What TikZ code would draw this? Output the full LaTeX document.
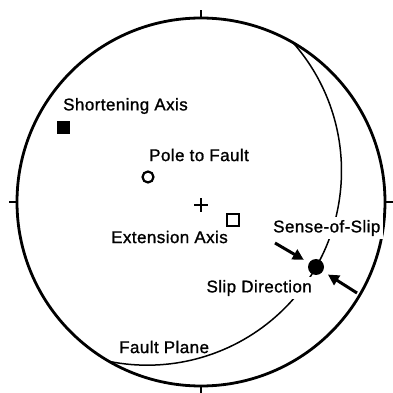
\documentclass[tikz,border=0pt]{standalone}
\usepackage{fontspec}
\setmainfont{Liberation Sans}[LetterSpace=2.5, FakeBold=1.2]
\usetikzlibrary{arrows.meta}
\tikzset{
  net/.style={draw, circle, line width=2.8pt, inner sep=0pt, minimum size=368pt},
  tick/.style={line width=1.6pt},
  plane/.style={line width=1.5pt},
  lbl/.style={font=\fontsize{17}{19}\selectfont, inner sep=2pt},
  cutlbl/.style={lbl, fill=white, inner sep=3pt},
  pt/.style={inner sep=0pt, line width=2.2pt},
  arr/.style={-{Triangle[length=11pt,width=11pt]}, line width=3pt, shorten >=5pt},
}

\begin{document}
\begin{tikzpicture}[x=1pt, y=1pt]
  \useasboundingbox (-201,-191) rectangle (192,202);
  % primitive circle and its ticks
  \node[net] (prim) at (0,0) {};
  \draw[tick] (prim.north) -- ++(0,7);
  \draw[tick] (prim.south) -- ++(0,-7);
  \draw[tick] (prim.west) -- ++(-7,0);
  \draw[tick] (prim.east) -- ++(7,0);
  % fault plane great circle
  \draw[plane] (-53.7,31) ++(41.4:194.2) arc[start angle=41.4, end angle=-101.4, radius=194.2];
  % centre
  \coordinate (ctr) at (0,-3);
  \draw[line width=1.3pt] ([xshift=-7pt]ctr) -- ([xshift=7pt]ctr)
    ([yshift=-7pt]ctr) -- ([yshift=7pt]ctr);
  % axes and poles
  \node[pt, fill, rectangle, minimum size=13pt] (short) at (-137,74) {};
  \node[lbl, anchor=west] (shortlbl) at (-140,96) {Shortening Axis};
  \node[pt, draw, circle, minimum size=11pt] (pole) at (-53,25) {};
  \node[lbl, anchor=west] (polelbl) at (-54,47) {Pole to Fault};
  \node[pt, draw, rectangle, minimum size=12pt] (ext) at (32,-18) {};
  \node[lbl, anchor=east] (extlbl) at (29,-35) {Extension Axis};
  % slip direction
  \node[pt, fill, circle, minimum size=16pt] (slip) at (115,-65) {};
  \node[cutlbl, anchor=west] (senselbl) at (69,-26) {Sense-of-Slip};
  \node[cutlbl, anchor=east] (sliplbl) at (114,-86) {Slip Direction};
  \node[lbl, anchor=west] (faultlbl) at (-84,-145) {Fault Plane};
  \coordinate (nwtail) at (74,-41);
  \coordinate (setail) at (156,-91);
  \draw[arr] (nwtail) -- (slip);
  \draw[arr] (setail) -- (slip);
\end{tikzpicture}
\end{document}
